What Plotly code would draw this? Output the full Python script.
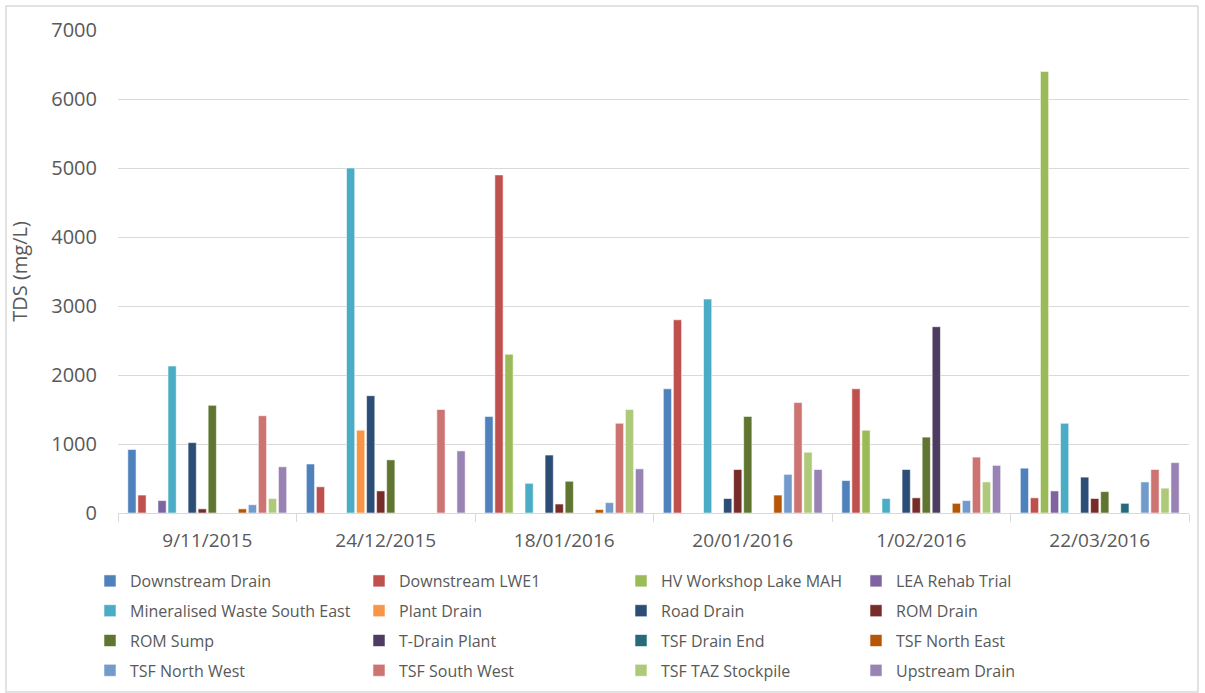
import plotly.graph_objects as go

dates = ["9/11/2015", "24/12/2015", "18/01/2016", "20/01/2016", "1/02/2016", "22/03/2016"]

series_names = [
    "Downstream Drain", "Downstream LWE1", "HV Workshop Lake MAH", "LEA Rehab Trial",
    "Mineralised Waste South East", "Plant Drain", "Road Drain", "ROM Drain",
    "ROM Sump", "T-Drain Plant", "TSF Drain End", "TSF North East",
    "TSF North West", "TSF South West", "TSF TAZ Stockpile", "Upstream Drain",
]

downstream_drain = [920, 710, 1400, 1800, 470, 650]
downstream_lwe1 = [260, 380, 4900, 2800, 1800, 220]
hv_workshop_lake_mah = [None, None, 2300, None, 1200, 6400]
lea_rehab_trial = [180, None, None, None, None, 320]
mineralised_waste_se = [2130, 5000, 430, 3100, 210, 1300]
plant_drain = [None, 1200, None, None, None, None]
road_drain = [1020, 1700, 840, 210, 630, 520]
rom_drain = [60, 320, 130, 630, 220, 210]
rom_sump = [1560, 770, 460, 1400, 1100, 310]
t_drain_plant = [None, None, None, None, 2700, None]
tsf_drain_end = [None, None, None, None, None, 140]
tsf_north_east = [60, None, 50, 260, 140, None]
tsf_north_west = [120, None, 150, 560, 180, 450]
tsf_south_west = [1410, 1500, 1300, 1600, 810, 630]
tsf_taz_stockpile = [210, None, 1500, 880, 450, 360]
upstream_drain = [670, 900, 640, 630, 690, 730]

series_values = [
    downstream_drain, downstream_lwe1, hv_workshop_lake_mah, lea_rehab_trial,
    mineralised_waste_se, plant_drain, road_drain, rom_drain,
    rom_sump, t_drain_plant, tsf_drain_end, tsf_north_east,
    tsf_north_west, tsf_south_west, tsf_taz_stockpile, upstream_drain,
]

colors = [
    "#4F81BD", "#C0504D", "#9BBB59", "#8064A2",
    "#4BACC6", "#F79646", "#2C4D75", "#772C2A",
    "#5F7530", "#4D3B62", "#276A7C", "#B65708",
    "#729ACA", "#CD7371", "#AFC97A", "#9983B5",
]

FONT = "Open Sans"
TXT = "#595959"

fig = go.Figure()
legend_ids = ["legend", "legend2", "legend3", "legend4"]
for i, (name, vals, col) in enumerate(zip(series_names, series_values, colors)):
    fig.add_trace(go.Bar(
        name=name, x=dates, y=vals,
        marker=dict(color=col, line=dict(color="rgba(255,255,255,0.55)", width=1)),
        legend=legend_ids[i % 4],
        legendgroup=name,
    ))

# plot area pixels
L, R, T, B = 118, 1189, 30, 513
W, H = R - L, B - T

def px_x(x):
    return (x - L) / W

def px_y(y):
    return (B - y) / H

col_px = [90, 359, 621, 856]
legend_common = dict(
    orientation="v", yanchor="top", xanchor="left",
    font=dict(family=FONT, size=16, color=TXT),
    bgcolor="rgba(0,0,0,0)", tracegroupgap=6, itemclick=False,
)
layout_legends = {}
for lid, cx in zip(legend_ids, col_px):
    layout_legends[lid] = dict(legend_common, x=px_x(cx), y=px_y(564))

fig.update_layout(
    width=1205, height=693,
    margin=dict(l=L, r=1205 - R, t=T, b=693 - B, autoexpand=False),
    paper_bgcolor="white", plot_bgcolor="white",
    barmode="group", bargap=0.1, bargroupgap=0.18,
    font=dict(family=FONT, color=TXT),
    showlegend=True,
    **layout_legends,
)

fig.update_xaxes(
    type="category", tickson="boundaries", ticks="outside", ticklen=8,
    tickcolor="#D9D9D9", showline=True, linecolor="#D9D9D9", linewidth=1,
    tickfont=dict(family=FONT, size=19, color=TXT), showgrid=False,
    ticklabelstandoff=10, automargin=False,
)
fig.update_yaxes(
    range=[0, 7000], dtick=1000, showgrid=True, gridcolor="#D9D9D9", gridwidth=1,
    zeroline=False, showline=False, ticks="",
    tickfont=dict(family=FONT, size=20, color=TXT), ticklabelstandoff=20,
    title=dict(text="TDS (mg/L)", font=dict(family=FONT, size=20, color=TXT), standoff=18),
    automargin=False,
)

# chart outer border
fig.add_shape(type="rect", xref="paper", yref="paper",
              x0=px_x(6), x1=px_x(1198), y0=px_y(692), y1=px_y(6),
              line=dict(color="#D9D9D9", width=1.5), fillcolor="rgba(0,0,0,0)", layer="below")

fig.write_html("out.html")
